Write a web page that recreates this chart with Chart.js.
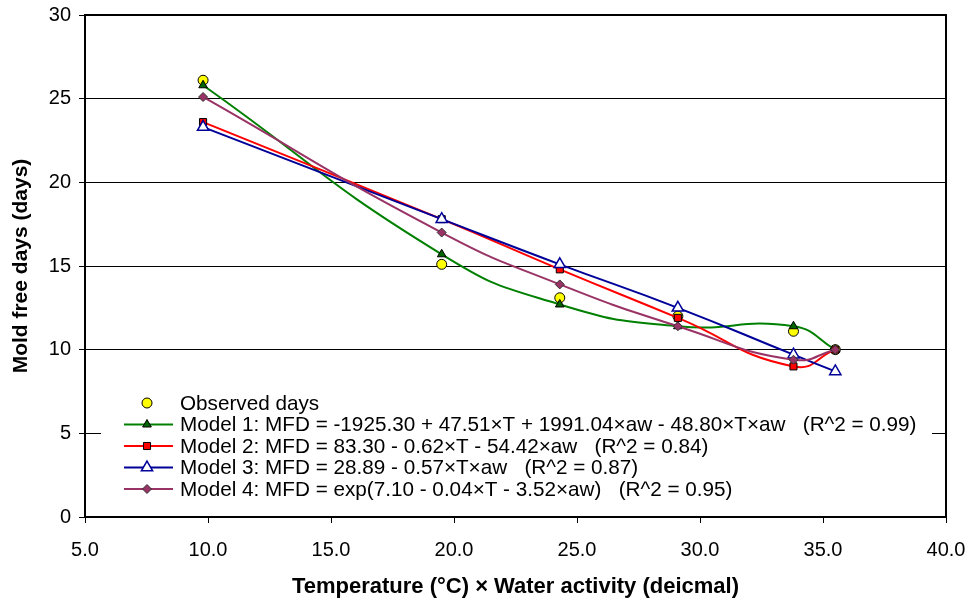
<!DOCTYPE html>
<html>
<head>
<meta charset="utf-8">
<script src="https://cdn.jsdelivr.net/npm/chart.js@4.4.1/dist/chart.umd.min.js"></script>
<style>
  body { margin: 0; background: #fff; }
  #wrap { width: 971px; height: 603px; }
</style>
</head>
<body>
<div id="wrap"><canvas id="moldChart" width="971" height="603"></canvas></div>
<script>
// temperature x water activity, one value per storage condition
const xValues = [9.8, 19.5, 24.3, 29.1, 33.8, 35.5];

const observedDays = [26.1, 15.1, 13.1, 12.0, 11.1, 10.0];
const model1Days = [25.8, 15.7, 12.7, 11.4, 11.4, 10.0];
const model2Days = [23.6, 17.8, 14.8, 11.9, 9.0, 10.0];
const model3Days = [23.3, 17.8, 15.1, 12.5, 9.7, 8.7];
const model4Days = [25.1, 17.0, 13.9, 11.4, 9.4, 10.0];

const seriesLabels = [
  'Observed days',
  'Model 1: MFD = -1925.30 + 47.51\u00d7T + 1991.04\u00d7aw - 48.80\u00d7T\u00d7aw   (R^2 = 0.99)',
  'Model 2: MFD = 83.30 - 0.62\u00d7T - 54.42\u00d7aw   (R^2 = 0.84)',
  'Model 3: MFD = 28.89 - 0.57\u00d7T\u00d7aw   (R^2 = 0.87)',
  'Model 4: MFD = exp(7.10 - 0.04\u00d7T - 3.52\u00d7aw)   (R^2 = 0.95)'
];

const xTickValues = [5, 10, 15, 20, 25, 30, 35, 40];
const yTickValues = [0, 5, 10, 15, 20, 25, 30];

const FONT = "'Liberation Sans', Arial, sans-serif";

function pairUp(ys) {
  return xValues.map((x, i) => ({ x: x, y: ys[i] }));
}

// legend drawn inside the plot area, on a white box like the original
const insideLegend = {
  id: 'insideLegend',
  afterDatasetsDraw(chart) {
    const ctx = chart.ctx;
    const area = chart.chartArea;
    const boxLeft = area.left + 16;
    const boxRight = area.right - 14;
    const boxTop = 392;
    const rowH = 21.5;
    const firstRow = 403;

    ctx.save();
    ctx.fillStyle = '#fff';
    ctx.fillRect(boxLeft, boxTop, boxRight - boxLeft, rowH * 5 + 2);

    ctx.font = '20.7px ' + FONT;
    ctx.textBaseline = 'middle';
    ctx.textAlign = 'left';

    chart.data.datasets.forEach((ds, i) => {
      const y = firstRow + i * rowH;
      if (ds.showLine !== false) {
        ctx.strokeStyle = ds.borderColor;
        ctx.lineWidth = ds.borderWidth;
        ctx.beginPath();
        ctx.moveTo(124, y);
        ctx.lineTo(173, y);
        ctx.stroke();
      }
      ctx.fillStyle = ds.pointBackgroundColor;
      ctx.strokeStyle = ds.pointBorderColor;
      ctx.lineWidth = ds.pointBorderWidth;
      Chart.helpers.drawPoint(ctx, {
        pointStyle: ds.pointStyle,
        rotation: 0,
        radius: ds.pointRadius,
        borderWidth: ds.pointBorderWidth
      }, 147, y);

      ctx.fillStyle = '#000';
      ctx.fillText(ds.label, 180, y + 1);
    });
    ctx.restore();
  }
};

// box round the plot area
const plotFrame = {
  id: 'plotFrame',
  afterDraw(chart) {
    const a = chart.chartArea;
    const ctx = chart.ctx;
    ctx.save();
    ctx.strokeStyle = '#000';
    ctx.lineWidth = 2;
    ctx.strokeRect(a.left, a.top, a.right - a.left, a.bottom - a.top);
    ctx.restore();
  }
};

const ctx = document.getElementById('moldChart').getContext('2d');

const moldChart = new Chart(ctx, {
  type: 'scatter',
  data: {
    datasets: [
      {
        label: seriesLabels[0],
        data: pairUp(observedDays),
        showLine: false,
        pointStyle: 'circle',
        pointRadius: 5,
        pointBackgroundColor: '#ffff00',
        pointBorderColor: '#000',
        pointBorderWidth: 1,
        borderColor: '#000',
        borderWidth: 1,
        order: 5
      },
      {
        label: seriesLabels[1],
        data: pairUp(model1Days),
        showLine: true,
        tension: 0.5,
        borderColor: '#008000',
        borderWidth: 2,
        pointStyle: 'triangle',
        pointRadius: 5,
        pointBackgroundColor: '#006400',
        pointBorderColor: '#000',
        pointBorderWidth: 1,
        order: 4
      },
      {
        label: seriesLabels[2],
        data: pairUp(model2Days),
        showLine: true,
        tension: 0.5,
        borderColor: '#ff0000',
        borderWidth: 2,
        pointStyle: 'rect',
        pointRadius: 5,
        pointBackgroundColor: '#ff0000',
        pointBorderColor: '#000',
        pointBorderWidth: 1,
        order: 3
      },
      {
        label: seriesLabels[3],
        data: pairUp(model3Days),
        showLine: true,
        tension: 0.5,
        borderColor: '#000099',
        borderWidth: 2,
        pointStyle: 'triangle',
        pointRadius: 6.5,
        pointBackgroundColor: '#fff',
        pointBorderColor: '#000099',
        pointBorderWidth: 1.5,
        order: 2
      },
      {
        label: seriesLabels[4],
        data: pairUp(model4Days),
        showLine: true,
        tension: 0.5,
        borderColor: '#993366',
        borderWidth: 2,
        pointStyle: 'rectRot',
        pointRadius: 4.5,
        pointBackgroundColor: '#993366',
        pointBorderColor: '#333',
        pointBorderWidth: 1,
        order: 1
      }
    ]
  },
  options: {
    responsive: false,
    animation: false,
    layout: { padding: { top: 15, right: 25, left: 0, bottom: 0 } },
    plugins: {
      legend: { display: false },
      tooltip: { enabled: false }
    },
    scales: {
      x: {
        type: 'linear',
        min: 5,
        max: 40,
        afterFit(scale) {
          scale.height = 86;
          // label overhang is already covered by the layout padding
          scale.paddingLeft = 0;
          scale.paddingRight = 0;
        },
        afterBuildTicks(scale) { scale.ticks = xTickValues.map(v => ({ value: v })); },
        grid: {
          drawOnChartArea: false,
          drawTicks: true,
          tickLength: 6,
          tickColor: '#000',
          tickWidth: 1
        },
        border: { display: true, color: '#000', width: 2 },
        ticks: {
          color: '#000',
          padding: 15,
          maxRotation: 0,
          font: { family: FONT, size: 20 },
          callback: v => Number(v).toFixed(1)
        },
        title: {
          display: true,
          text: 'Temperature (\u00b0C) \u00d7 Water activity (deicmal)',
          color: '#000',
          font: { family: FONT, size: 22, weight: 'bold' },
          padding: { top: 0, bottom: 3 }
        }
      },
      y: {
        min: 0,
        max: 30,
        afterFit(scale) {
          scale.width = 85;
          scale.paddingTop = 0;
          scale.paddingBottom = 0;
        },
        afterBuildTicks(scale) { scale.ticks = yTickValues.map(v => ({ value: v })); },
        grid: {
          color: '#000',
          lineWidth: 1,
          drawTicks: true,
          tickLength: 6,
          tickColor: '#000'
        },
        border: { display: true, color: '#000', width: 2 },
        ticks: {
          color: '#000',
          padding: 8,
          font: { family: FONT, size: 20 },
          callback: v => String(v)
        },
        title: {
          display: true,
          text: 'Mold free days (days)',
          color: '#000',
          font: { family: FONT, size: 21, weight: 'bold' },
          padding: { top: 9, bottom: 0 }
        }
      }
    }
  },
  plugins: [insideLegend, plotFrame]
});
</script>
</body>
</html>
